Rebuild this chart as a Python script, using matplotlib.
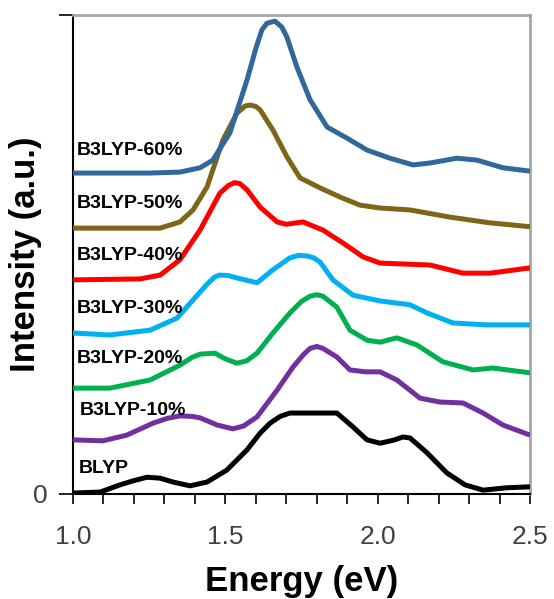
import numpy as np
import matplotlib
matplotlib.use("Agg")
import matplotlib.pyplot as plt

plt.rcParams['font.family'] = ['Liberation Sans', 'DejaVu Sans']

# spectra: energy (eV) and stacked intensity (a.u.)
e_blyp = [1.0, 1.089, 1.154, 1.2, 1.243, 1.286, 1.328, 1.384, 1.44, 1.505, 1.571, 1.614, 1.647,
          1.68, 1.712, 1.866, 1.919, 1.965, 2.008, 2.05, 2.083, 2.106, 2.162, 2.227, 2.287,
          2.346, 2.424, 2.5]
i_blyp = [0.02, 0.04, 0.19, 0.28, 0.35, 0.33, 0.25, 0.17, 0.25, 0.50, 0.92, 1.27, 1.48,
          1.62, 1.69, 1.69, 1.40, 1.13, 1.06, 1.12, 1.19, 1.17, 0.86, 0.44, 0.19,
          0.08, 0.13, 0.15]

e_10 = [1.0, 1.098, 1.177, 1.263, 1.31, 1.351, 1.39, 1.417, 1.473, 1.525, 1.56, 1.604, 1.67,
        1.722, 1.755, 1.778, 1.80, 1.82, 1.866, 1.909, 1.96, 2.008, 2.063, 2.139, 2.204,
        2.28, 2.346, 2.411, 2.5]
i_10 = [1.13, 1.11, 1.23, 1.48, 1.58, 1.63, 1.62, 1.59, 1.44, 1.36, 1.42, 1.61, 2.17,
        2.65, 2.90, 3.04, 3.08, 3.04, 2.86, 2.59, 2.55, 2.55, 2.38, 2.00, 1.92,
        1.90, 1.69, 1.44, 1.23]

e_20 = [1.0, 1.121, 1.253, 1.351, 1.39, 1.417, 1.466, 1.50, 1.538, 1.57, 1.604, 1.656, 1.712,
        1.75, 1.778, 1.80, 1.82, 1.866, 1.909, 1.965, 2.008, 2.063, 2.129, 2.214, 2.313,
        2.378, 2.5]
i_20 = [2.21, 2.21, 2.38, 2.69, 2.85, 2.92, 2.94, 2.82, 2.73, 2.78, 2.94, 3.36, 3.78,
        4.02, 4.13, 4.16, 4.13, 3.90, 3.42, 3.21, 3.17, 3.26, 3.11, 2.76, 2.59,
        2.63, 2.53]

e_30 = [1.0, 1.121, 1.253, 1.341, 1.394, 1.44, 1.465, 1.482, 1.51, 1.538, 1.604, 1.656,
        1.712, 1.74, 1.768, 1.79, 1.811, 1.853, 1.919, 2.008, 2.106, 2.162, 2.247, 2.359, 2.5]
i_30 = [3.36, 3.32, 3.42, 3.67, 4.05, 4.38, 4.53, 4.57, 4.56, 4.51, 4.41, 4.68,
        4.93, 4.98, 4.97, 4.93, 4.84, 4.47, 4.15, 4.03, 3.95, 3.78, 3.57, 3.53, 3.53]

e_40 = [1.0, 1.22, 1.286, 1.351, 1.417, 1.482, 1.51, 1.53, 1.548, 1.571, 1.614, 1.67, 1.70,
        1.755, 1.82, 1.886, 1.952, 2.008, 2.172, 2.28, 2.369, 2.5]
i_40 = [4.47, 4.49, 4.57, 4.89, 5.51, 6.28, 6.44, 6.50, 6.48, 6.35, 5.99, 5.68, 5.63,
        5.68, 5.51, 5.24, 4.95, 4.82, 4.78, 4.61, 4.61, 4.72]

e_50 = [1.0, 1.286, 1.351, 1.394, 1.44, 1.492, 1.538, 1.565, 1.581, 1.60, 1.614, 1.656,
        1.702, 1.745, 1.811, 1.876, 1.942, 2.008, 2.106, 2.237, 2.369, 2.5]
i_50 = [5.55, 5.55, 5.68, 5.93, 6.41, 7.39, 7.95, 8.10, 8.12, 8.09, 8.02, 7.60,
        7.04, 6.60, 6.39, 6.20, 6.03, 5.97, 5.93, 5.78, 5.66, 5.58]

e_60 = [1.0, 1.253, 1.351, 1.417, 1.459, 1.515, 1.571, 1.60, 1.62, 1.637, 1.663, 1.685,
        1.702, 1.735, 1.778, 1.834, 1.899, 1.965, 2.04, 2.116, 2.172, 2.26, 2.326, 2.411, 2.5]
i_60 = [6.70, 6.70, 6.72, 6.81, 6.97, 7.54, 8.64, 9.30, 9.69, 9.83, 9.87, 9.75,
        9.54, 8.91, 8.23, 7.66, 7.43, 7.18, 7.01, 6.87, 6.91, 7.01, 6.97, 6.81, 6.74]

names = ['BLYP', 'B3LYP-10%', 'B3LYP-20%', 'B3LYP-30%', 'B3LYP-40%', 'B3LYP-50%', 'B3LYP-60%']
colors = ['#000000', '#7030A0', '#00B050', '#00B0F0', '#FF0000', '#7F6518', '#31689B']
label_y = [0.44, 1.65, 2.73, 3.78, 4.89, 5.97, 7.08]
label_x = [1.02, 1.023, 1.013, 1.013, 1.013, 1.013, 1.013]

energies = [e_blyp, e_10, e_20, e_30, e_40, e_50, e_60]
intens = [i_blyp, i_10, i_20, i_30, i_40, i_50, i_60]

fig = plt.figure(figsize=(5.54, 5.99), dpi=100)
ax = fig.add_axes([0.1318, 0.1753, 0.9567 - 0.1318, 0.975 - 0.1753])

for e, y, c in zip(energies, intens, colors):
    ax.plot(e, y, color=c, lw=3.6, solid_joinstyle='round', solid_capstyle='butt', zorder=3)

for name, lx, ly in zip(names, label_x, label_y):
    ax.text(lx, ly, name, fontsize=14, fontweight='bold', va='baseline', ha='left', zorder=4)

ax.set_xlim(1.0, 2.5)
ax.set_ylim(0, 10)
ax.set_xticks([1.0, 1.5, 2.0, 2.5])
ax.set_xticklabels(['1.0', '1.5', '2.0', '2.5'])
ax.set_xticks(np.arange(1.0, 2.51, 0.1), minor=True)
ax.set_yticks([0, 10])
ax.set_yticklabels(['0', ''])

ax.tick_params(axis='x', which='both', direction='out', length=7, width=1.2, pad=15,
               labelsize=19, labelcolor='#404040')
ax.tick_params(axis='y', which='both', direction='out', length=10, width=1.2, pad=8,
               labelsize=19, labelcolor='#404040')

for s in ['left', 'bottom']:
    ax.spines[s].set_color('black')
    ax.spines[s].set_linewidth(1.5)
for s in ['top', 'right']:
    ax.spines[s].set_color('#A6A6A6')
    ax.spines[s].set_linewidth(2)

ax.set_xlabel('Energy (eV)', fontsize=25, fontweight='bold', labelpad=12)
ax.set_ylabel('Intensity (a.u.)', fontsize=25, fontweight='bold', labelpad=-6)

fig.savefig('out.png', dpi=100)
